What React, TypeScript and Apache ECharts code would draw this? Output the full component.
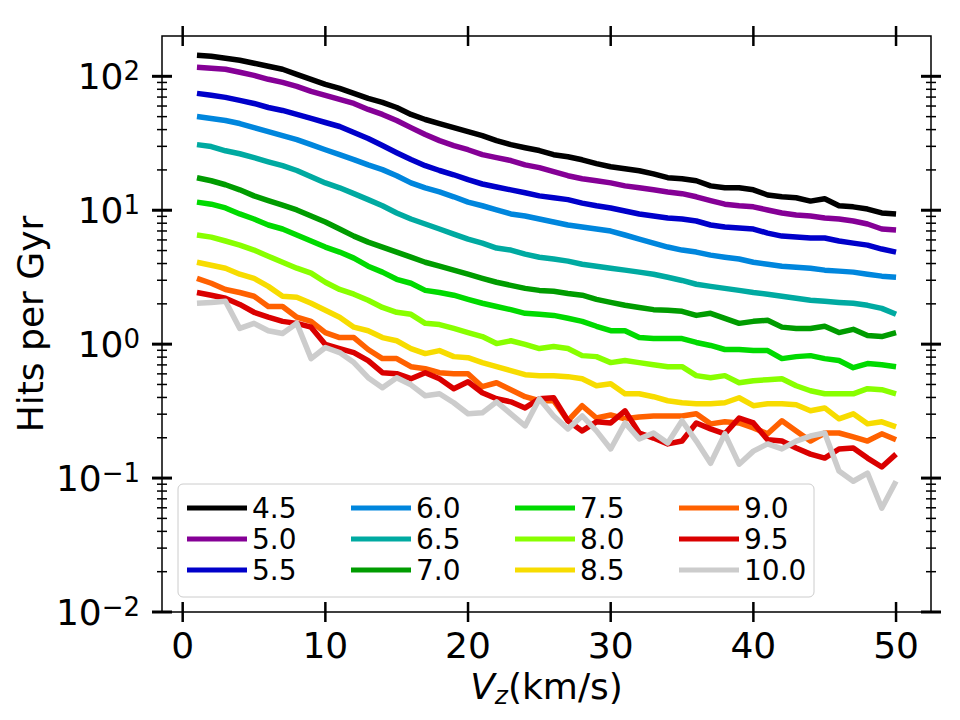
import React, { useEffect, useRef } from 'react';
import * as echarts from 'echarts';

// Vertical velocity bins (km/s)
const VZ = [
  1, 2, 3, 4, 5, 6, 7, 8, 9, 10, 11, 12, 13, 14, 15, 16, 17, 18, 19, 20, 21, 22, 23, 24, 25,
  26, 27, 28, 29, 30, 31, 32, 33, 34, 35, 36, 37, 38, 39, 40, 41, 42, 43, 44, 45, 46, 47, 48, 49, 50,
];

// Hits per Gyr for each curve
const HITS_4_5 = [143.7, 141.3, 136.5, 131.9, 125.2, 118.9, 112.9, 103.5, 94.9, 87.1, 81.3, 74.6, 68.4, 63.8, 58.5, 51.9, 47.6, 44.4, 41.4, 38.7, 36.1, 33.1, 30.9, 29.3, 27.9, 26.0, 25.1, 23.8, 22.3, 21.1, 20.4, 19.7, 18.7, 17.5, 17.2, 16.6, 15.2, 14.7, 14.7, 14.2, 13.0, 12.6, 12.4, 11.7, 12.2, 10.8, 10.6, 10.2, 9.55, 9.38];
const HITS_5_0 = [116.8, 114.8, 112.9, 107.2, 101.7, 95.0, 90.1, 84.1, 77.2, 72.1, 67.2, 62.7, 56.6, 51.9, 46.8, 41.4, 36.8, 33.1, 30.4, 28.3, 26.0, 24.7, 23.5, 21.8, 20.8, 19.4, 18.1, 17.2, 16.6, 16.0, 15.2, 14.7, 14.2, 13.7, 13.3, 12.6, 11.8, 11.1, 10.8, 10.6, 10.05, 9.54, 9.22, 9.06, 8.75, 8.60, 8.31, 7.89, 7.24, 7.11];
const HITS_5_5 = [74.6, 72.1, 69.6, 66.1, 62.7, 58.5, 55.6, 51.9, 48.5, 45.2, 42.2, 38.0, 34.3, 30.4, 26.9, 23.9, 21.5, 19.8, 18.4, 16.9, 15.7, 14.9, 14.2, 13.5, 12.8, 12.4, 12.0, 11.3, 10.8, 10.4, 9.88, 9.38, 9.06, 8.75, 8.60, 8.31, 7.76, 7.49, 7.36, 7.24, 6.75, 6.41, 6.31, 6.20, 6.20, 5.89, 5.68, 5.49, 5.13, 4.87];
const HITS_6_0 = [50.1, 48.5, 46.8, 44.4, 41.4, 38.6, 36.1, 33.7, 30.9, 28.3, 26.0, 23.9, 21.8, 20.1, 18.1, 16.0, 14.7, 13.7, 12.6, 11.5, 10.8, 10.05, 9.38, 9.06, 8.60, 8.17, 7.76, 7.49, 7.24, 6.99, 6.53, 6.09, 5.68, 5.31, 5.04, 4.87, 4.62, 4.46, 4.32, 4.09, 3.95, 3.82, 3.75, 3.69, 3.57, 3.51, 3.45, 3.33, 3.22, 3.16];
const HITS_6_5 = [30.9, 29.9, 27.8, 26.4, 24.7, 23.0, 21.5, 19.8, 17.8, 16.0, 14.7, 13.3, 12.0, 10.8, 9.54, 8.60, 7.89, 7.24, 6.64, 6.09, 5.68, 5.22, 5.04, 4.70, 4.46, 4.32, 4.17, 3.95, 3.82, 3.69, 3.57, 3.45, 3.33, 3.16, 2.99, 2.80, 2.70, 2.61, 2.52, 2.43, 2.36, 2.28, 2.20, 2.13, 2.09, 2.05, 2.02, 1.95, 1.85, 1.67];
const HITS_7_0 = [17.5, 16.6, 15.5, 14.2, 12.8, 11.8, 10.9, 10.05, 9.06, 8.17, 7.24, 6.41, 5.78, 5.31, 4.87, 4.46, 4.09, 3.82, 3.57, 3.33, 3.10, 2.90, 2.75, 2.61, 2.52, 2.48, 2.39, 2.32, 2.16, 2.05, 1.95, 1.88, 1.81, 1.79, 1.76, 1.64, 1.70, 1.56, 1.43, 1.48, 1.51, 1.34, 1.31, 1.31, 1.36, 1.22, 1.29, 1.16, 1.14, 1.22];
const HITS_7_5 = [11.5, 11.1, 10.4, 9.38, 8.60, 7.76, 7.24, 6.53, 5.89, 5.31, 4.87, 4.39, 3.82, 3.45, 3.05, 2.85, 2.52, 2.43, 2.32, 2.16, 2.02, 1.91, 1.81, 1.70, 1.67, 1.64, 1.56, 1.48, 1.36, 1.26, 1.26, 1.12, 1.10, 1.10, 1.10, 1.03, 0.978, 0.912, 0.912, 0.895, 0.895, 0.780, 0.807, 0.821, 0.780, 0.754, 0.667, 0.716, 0.703, 0.679];
const HITS_8_0 = [6.53, 6.30, 5.89, 5.49, 5.04, 4.54, 4.09, 3.69, 3.39, 2.90, 2.56, 2.36, 2.13, 1.88, 1.73, 1.67, 1.43, 1.40, 1.31, 1.22, 1.14, 1.01, 1.06, 0.995, 0.927, 0.96, 0.927, 0.821, 0.807, 0.728, 0.754, 0.728, 0.703, 0.679, 0.679, 0.582, 0.562, 0.582, 0.515, 0.533, 0.543, 0.552, 0.489, 0.449, 0.426, 0.426, 0.426, 0.465, 0.457, 0.426];
const HITS_8_5 = [4.09, 3.88, 3.69, 3.33, 3.10, 2.70, 2.28, 2.24, 2.02, 1.79, 1.59, 1.34, 1.26, 1.12, 1.06, 0.927, 0.850, 0.895, 0.807, 0.793, 0.728, 0.679, 0.634, 0.592, 0.582, 0.582, 0.572, 0.552, 0.489, 0.506, 0.426, 0.426, 0.405, 0.378, 0.365, 0.359, 0.359, 0.365, 0.398, 0.347, 0.359, 0.359, 0.353, 0.318, 0.334, 0.277, 0.302, 0.254, 0.263, 0.241];
const HITS_9_0 = [3.10, 2.85, 2.56, 2.43, 2.28, 1.91, 1.91, 1.59, 1.48, 1.22, 1.12, 1.12, 0.912, 0.780, 0.780, 0.679, 0.656, 0.612, 0.602, 0.602, 0.481, 0.515, 0.457, 0.405, 0.378, 0.378, 0.268, 0.347, 0.281, 0.296, 0.277, 0.286, 0.291, 0.291, 0.291, 0.302, 0.254, 0.263, 0.258, 0.237, 0.214, 0.268, 0.225, 0.189, 0.217, 0.217, 0.203, 0.189, 0.214, 0.193];
const HITS_9_5 = [2.43, 2.32, 2.20, 1.98, 1.73, 1.59, 1.48, 1.43, 1.34, 0.995, 0.927, 0.865, 0.754, 0.612, 0.602, 0.552, 0.612, 0.552, 0.465, 0.524, 0.434, 0.391, 0.371, 0.334, 0.391, 0.398, 0.268, 0.225, 0.263, 0.258, 0.318, 0.217, 0.199, 0.180, 0.189, 0.258, 0.233, 0.214, 0.281, 0.258, 0.193, 0.189, 0.168, 0.151, 0.141, 0.165, 0.168, 0.141, 0.121, 0.151];
const HITS_10_0 = [2.02, 2.05, 2.09, 1.31, 1.43, 1.26, 1.20, 1.43, 0.780, 0.944, 0.865, 0.728, 0.562, 0.473, 0.562, 0.497, 0.412, 0.426, 0.365, 0.302, 0.307, 0.371, 0.302, 0.245, 0.391, 0.291, 0.233, 0.291, 0.225, 0.165, 0.258, 0.196, 0.217, 0.183, 0.268, 0.189, 0.129, 0.214, 0.127, 0.159, 0.180, 0.165, 0.189, 0.206, 0.217, 0.113, 0.0947, 0.109, 0.0595, 0.0947];

const SERIES_NAMES = ['4.5', '5.0', '5.5', '6.0', '6.5', '7.0', '7.5', '8.0', '8.5', '9.0', '9.5', '10.0'];
const SERIES_VALUES = [
  HITS_4_5, HITS_5_0, HITS_5_5, HITS_6_0, HITS_6_5, HITS_7_0,
  HITS_7_5, HITS_8_0, HITS_8_5, HITS_9_0, HITS_9_5, HITS_10_0,
];
const COLORS = [
  '#000000', '#850096', '#0000ca', '#0086dd', '#00aaa1', '#009c00',
  '#00da00', '#88ff00', '#f7dc00', '#ff6100', '#da0000', '#cccccc',
];

// Axis ticks
const X_TICKS = [0, 10, 20, 30, 40, 50];
const Y_MAJOR_TICKS = [0.01, 0.1, 1, 10, 100];
const X_MIN = -1.45;
const X_MAX = 52.45;
const Y_MIN = 0.01;
const Y_MAX = 200;

const FONT = 'DejaVu Sans';

const GRID_LEFT = 162;
const GRID_RIGHT = 29;
const GRID_TOP = 36;
const GRID_BOTTOM = 108;

function buildMinorTicks(): number[] {
  const out: number[] = [];
  for (let k = -2; k <= 2; k++) {
    for (let m = 2; m <= 9; m++) {
      const v = m * Math.pow(10, k);
      if (v < Y_MAX) out.push(v);
    }
  }
  return out;
}

function decadeLabel(v: number): string {
  const k = Math.log10(v);
  const r = Math.round(k);
  if (Math.abs(k - r) > 1e-6) return '';
  const exp = r < 0 ? '\u2212' + String(-r) : String(r);
  return `{b|10}{e|${exp}}`;
}

export default function App() {
  const ref = useRef<HTMLDivElement>(null);

  useEffect(() => {
    if (!ref.current) return;
    const chart = echarts.init(ref.current, undefined, { renderer: 'svg' });

    const lineSeries = SERIES_NAMES.map((name, i) => ({
      name,
      type: 'line',
      data: VZ.map((x, j) => [x, SERIES_VALUES[i][j]]),
      showSymbol: false,
      symbol: 'none',
      clip: true,
      lineStyle: { width: 5.5, color: COLORS[i], join: 'round', cap: 'butt' },
      itemStyle: { color: COLORS[i] },
      emphasis: { disabled: true },
      z: 2,
    }));

    const yTickData = [
      ...Y_MAJOR_TICKS.map((v) => [X_MIN, v, 1]),
      ...buildMinorTicks().map((v) => [X_MIN, v, 0]),
    ];

    const yTickSeries = {
      type: 'custom',
      silent: true,
      clip: false,
      z: 5,
      data: yTickData,
      renderItem: (_params: any, api: any) => {
        const v = api.value(1);
        const major = api.value(2) === 1;
        const half = major ? 10 : 5;
        const lw = major ? 3 : 1.5;
        const left = api.coord([X_MIN, v]);
        const right = api.coord([X_MAX, v]);
        return {
          type: 'group',
          children: [
            { type: 'line', shape: { x1: left[0] - half, y1: left[1], x2: left[0] + half, y2: left[1] }, style: { stroke: '#000', lineWidth: lw } },
            { type: 'line', shape: { x1: right[0] - half, y1: right[1], x2: right[0] + half, y2: right[1] }, style: { stroke: '#000', lineWidth: lw } },
          ],
        };
      },
    };

    const xTickSeries = {
      type: 'custom',
      silent: true,
      clip: false,
      z: 5,
      data: X_TICKS.map((v) => [v, Y_MIN]),
      renderItem: (_params: any, api: any) => {
        const v = api.value(0);
        const bottom = api.coord([v, Y_MIN]);
        const top = api.coord([v, Y_MAX]);
        return {
          type: 'group',
          children: [
            { type: 'line', shape: { x1: bottom[0], y1: bottom[1] - 10, x2: bottom[0], y2: bottom[1] + 10 }, style: { stroke: '#000', lineWidth: 2.5 } },
            { type: 'line', shape: { x1: top[0], y1: top[1] - 10, x2: top[0], y2: top[1] + 10 }, style: { stroke: '#000', lineWidth: 2.5 } },
          ],
        };
      },
    };

    const legendData = SERIES_NAMES.map((name, i) => ({
      name,
      textStyle: { width: i >= 9 ? 70 : 96 },
    }));

    const plotMidY = GRID_TOP + (720 - GRID_TOP - GRID_BOTTOM) / 2;

    const option: any = {
      animation: false,
      backgroundColor: '#ffffff',
      grid: {
        left: GRID_LEFT,
        right: GRID_RIGHT,
        top: GRID_TOP,
        bottom: GRID_BOTTOM,
        show: true,
        borderColor: '#000000',
        borderWidth: 1.5,
        backgroundColor: 'transparent',
      },
      xAxis: {
        type: 'value',
        min: X_MIN,
        max: X_MAX,
        axisLine: { show: false },
        axisTick: { show: false },
        splitLine: { show: false },
        axisLabel: {
          customValues: X_TICKS,
          formatter: (v: number) => (Math.abs(v / 10 - Math.round(v / 10)) < 1e-9 ? String(Math.round(v)) : ''),
          margin: 15,
          fontSize: 36,
          lineHeight: 36,
          fontFamily: FONT,
          color: '#000000',
        },
        name: '{i|V}{s|z}{n|(km/s)}',
        nameLocation: 'middle',
        nameGap: 52,
        nameTextStyle: {
          fontSize: 36,
          fontFamily: FONT,
          color: '#000000',
          rich: {
            i: { fontSize: 36, fontStyle: 'italic', lineHeight: 44, fontFamily: FONT, color: '#000000' },
            s: { fontSize: 25, fontStyle: 'italic', lineHeight: 26, verticalAlign: 'bottom', fontFamily: FONT, color: '#000000' },
            n: { fontSize: 36, lineHeight: 44, fontFamily: FONT, color: '#000000' },
          },
        },
      },
      yAxis: {
        type: 'log',
        logBase: 10,
        min: Y_MIN,
        max: Y_MAX,
        axisLine: { show: false },
        axisTick: { show: false },
        splitLine: { show: false },
        minorTick: { show: false },
        axisLabel: {
          formatter: decadeLabel,
          margin: 22,
          rich: {
            b: { fontSize: 36, lineHeight: 36, fontFamily: FONT, color: '#000000' },
            e: { fontSize: 26, lineHeight: 18, verticalAlign: 'top', fontFamily: FONT, color: '#000000' },
          },
        },
      },
      graphic: [
        {
          type: 'text',
          x: 30,
          y: plotMidY,
          rotation: Math.PI / 2,
          silent: true,
          style: {
            text: 'Hits per Gyr',
            font: `36px "${FONT}"`,
            fill: '#000000',
            align: 'center',
            verticalAlign: 'middle',
          },
        },
      ],
      legend: {
        orient: 'vertical',
        left: 178,
        top: 484,
        height: 100,
        padding: [10, 0, 13, 9],
        itemGap: 3,
        itemWidth: 60,
        itemHeight: 5,
        icon: 'rect',
        backgroundColor: '#ffffff',
        borderColor: '#cccccc',
        borderWidth: 1,
        borderRadius: 5,
        selectedMode: false,
        textStyle: { fontFamily: FONT, fontSize: 28, lineHeight: 28, color: '#000000' },
        data: legendData,
      },
      series: [...lineSeries, yTickSeries, xTickSeries],
    };

    chart.setOption(option);
    return () => chart.dispose();
  }, []);

  return (
    <div
      ref={ref}
      style={{ position: 'absolute', left: 0, top: 0, width: 960, height: 720, background: '#ffffff' }}
    />
  );
}
